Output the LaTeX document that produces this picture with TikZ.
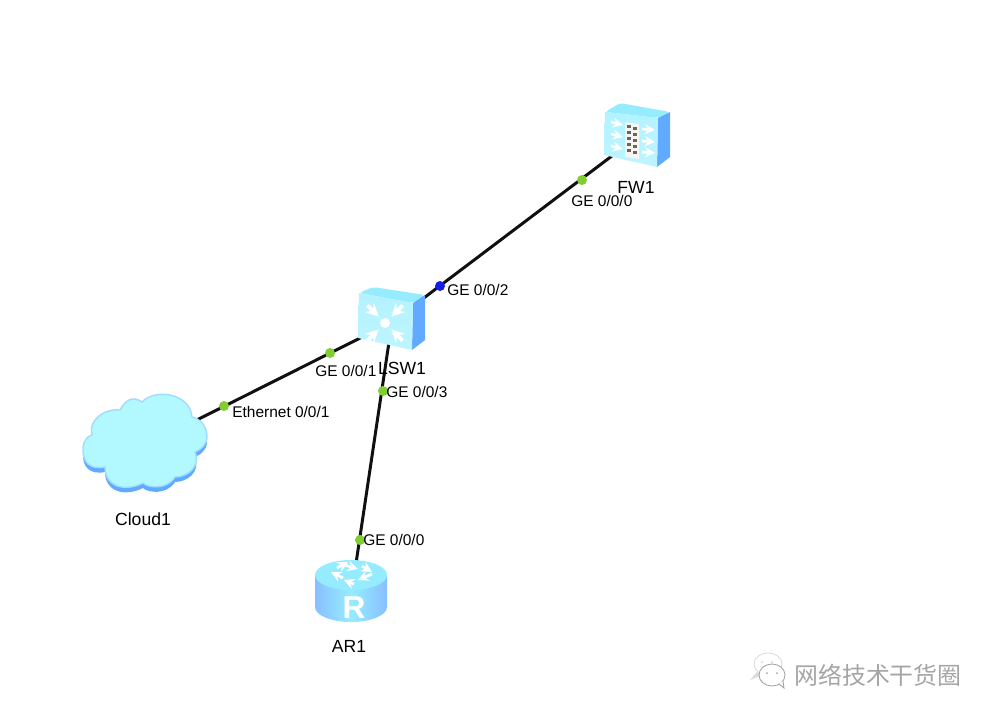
\documentclass[tikz,border=0pt]{standalone}
\usepackage{fontspec}
\setmainfont{Liberation Sans}
\newfontfamily\cjk{Noto Sans CJK SC}
\usepackage{tikz}
\definecolor{linkblack}{RGB}{16,16,16}
\definecolor{portgreen}{RGB}{130,205,50}
\definecolor{portblue}{RGB}{20,30,230}
\definecolor{faceblue}{RGB}{178,243,255}
\definecolor{topblue}{RGB}{150,236,255}
\definecolor{sideblue}{RGB}{96,170,255}
\definecolor{cloudblue}{RGB}{178,248,255}
\definecolor{rimblue}{RGB}{160,220,255}
\definecolor{markgrey}{RGB}{165,165,165}
\definecolor{brick}{RGB}{105,105,80}
\newcommand{\cloudpath}{(92,435) .. controls (88,418) and (107,408) .. (120,410)
  .. controls (127,397) and (135,397) .. (142,402)
  .. controls (155,388) and (190,393) .. (192,417)
  .. controls (205,420) and (207,432) .. (207,437)
  .. controls (207,445) and (200,450) .. (195,452)
  .. controls (201,467) and (187,477) .. (175,477)
  .. controls (167,490) and (148,488) .. (143,483)
  .. controls (125,492) and (105,487) .. (105,467)
  .. controls (90,470) and (82,462) .. (83,448)
  .. controls (83,442) and (87,436) .. (92,435) -- cycle}
\tikzset{
  port/.style={circle,fill=portgreen,inner sep=0pt,minimum size=0.2cm},
  portlabel/.style={right,inner sep=0pt,font=\fontsize{8.8}{10}\selectfont},
  devlabel/.style={inner sep=0pt,font=\fontsize{10}{12}\selectfont},
  link/.style={linkblack,line width=1.7pt},
  hub/.style={inner sep=0pt,minimum size=2pt},
  whitearrow/.style={white,line width=1.5pt,-stealth}
}
\begin{document}
\begin{tikzpicture}[x=0.02cm,y=-0.02cm]
  \fill[white] (0,0) rectangle (993,718);
  \node[hub] (FW1) at (637,137) {};
  \node[hub] (LSW1) at (392,322) {};
  \node[hub] (Cloud1) at (143,447) {};
  \node[hub] (AR1) at (351,597) {};
  % links
  \draw[link] (LSW1) -- (FW1);
  \draw[link] (LSW1) -- (Cloud1);
  \draw[link] (LSW1) -- (AR1);
  % FW1
  \fill[topblue,rounded corners=2pt] (605,112) -- (620,103) -- (670,112) -- (658,118) -- cycle;
  \fill[sideblue] (658,118) -- (670,112) -- (670,157) -- (657,167) -- cycle;
  \shade[top color=faceblue,bottom color=faceblue!85!white] (605,112) -- (658,118) -- (657,167) -- (604,155) -- cycle;
  \fill[white!92!gray] (625,122) -- (639,124) -- (639,159) -- (625,157) -- cycle;
  \foreach \y in {125,131,137,143,149}{
    \fill[brick] (627,\y) rectangle (631,\y+3);
    \fill[brick] (633,\y+2) rectangle (637,\y+5);
  }
  \foreach \y in {122,134,146}
    \draw[whitearrow] (611,\y) -- (623,\y+3);
  \foreach \y in {129,141,152}
    \draw[whitearrow] (642,\y) -- (655,\y+1);
  % LSW1
  \fill[topblue,rounded corners=2pt] (359,293) -- (373,287) -- (425,295) -- (413,303) -- cycle;
  \fill[sideblue] (413,303) -- (425,295) -- (425,340) -- (412,350) -- cycle;
  \shade[top color=faceblue,bottom color=faceblue!85!white] (359,293) -- (413,303) -- (412,350) -- (358,338) -- cycle;
  \fill[white] (385,323) circle (5);
  \foreach \a in {45,135,225,315}
    \draw[whitearrow,line width=2.2pt] ([shift={(\a:25)}]385,323) -- ([shift={(\a:9)}]385,323);
  % Cloud1
  \fill[sideblue,yshift=-0.1cm] \cloudpath;
  \fill[cloudblue,draw=rimblue,line width=0.8pt] \cloudpath;
  % AR1
  \shade[left color=sideblue!75!white,right color=sideblue!75!white,middle color=topblue] (315,575) -- (315,607) arc[start angle=180,end angle=360,x radius=36,y radius=-15] -- (387,575) -- cycle;
  \fill[topblue] (351,575) ellipse[x radius=36,y radius=15];
  \draw[whitearrow,line width=1.6pt] (343,578) -- (331,572);
  \draw[whitearrow,line width=1.6pt] (345,565) -- (358,569);
  \draw[whitearrow,line width=1.6pt] (372,574) -- (358,580);
  \draw[whitearrow,line width=1.6pt] (337,568) -- (348,562);
  \draw[whitearrow,line width=1.6pt] (362,566) -- (372,572);
  \draw[whitearrow,line width=1.6pt] (354,584) -- (344,580);
  \node[inner sep=0pt,white,font=\bfseries\fontsize{18}{20}\selectfont] (ARmark) at (354,608) {R};
  % ports
  \node[port] (p1) at (582,180) {};
  \node[port,fill=portblue] (p2) at (440,286) {};
  \node[port] (p3) at (330,353) {};
  \node[port] (p4) at (224,406) {};
  \node[port] (p5) at (383,391) {};
  \node[port] (p6) at (360,540) {};
  % labels
  \node[portlabel] (l1) at (571,201) {GE 0/0/0};
  \node[portlabel] (l2) at (447,290) {GE 0/0/2};
  \node[portlabel] (l3) at (315,371) {GE 0/0/1};
  \node[portlabel] (l4) at (232,412) {Ethernet 0/0/1};
  \node[portlabel] (l5) at (386,392) {GE 0/0/3};
  \node[portlabel] (l6) at (363,540) {GE 0/0/0};
  \node[devlabel] (n1) at (636,187) {FW1};
  \node[devlabel] (n2) at (402,368) {LSW1};
  \node[devlabel] (n3) at (143,519) {Cloud1};
  \node[devlabel] (n4) at (349,646) {AR1};
  % watermark
  \draw[markgrey!40,line width=0.5pt] (768,664) ellipse[x radius=14,y radius=11];
  \fill[markgrey!40] (757,672) -- (750,680) -- (762,675) -- cycle;
  \fill[white,draw=markgrey,line width=0.5pt] (772,675) ellipse[x radius=13,y radius=11];
  \fill[white,draw=markgrey,line width=0.5pt] (779,684) -- (784,688) -- (783,681);
  \foreach \x in {767,777}
    \fill[markgrey] (\x,673) circle (1);
  \foreach \x in {762,772}
    \fill[markgrey!50] (\x,662) circle (1);
  \node[right,inner sep=0pt,markgrey,font=\cjk\fontsize{13.6}{15}\selectfont] (mark) at (794,675) {网络技术干货圈};
\end{tikzpicture}
\end{document}
